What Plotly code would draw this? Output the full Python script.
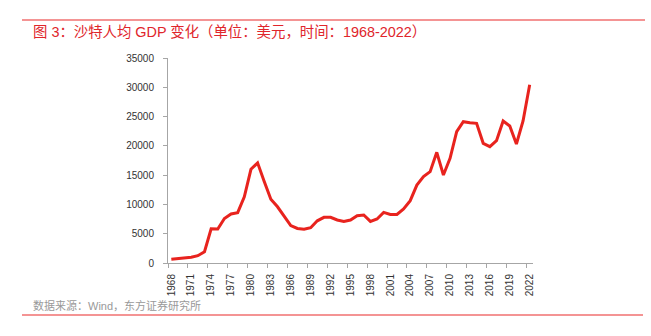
import plotly.graph_objects as go

years = list(range(1968, 2023))
gdp_per_capita = [
    630, 720, 830, 970, 1250, 1930, 5850, 5800, 7600, 8360,
    8600, 11300, 16000, 17100, 13900, 10900, 9600, 7900, 6400, 5900,
    5750, 6030, 7200, 7800, 7800, 7340, 7100, 7340, 8080, 8190,
    7100, 7510, 8650, 8300, 8300, 9220, 10640, 13310, 14740, 15590,
    18890, 15020, 17870, 22420, 24130, 23950, 23840, 20430, 19860, 20880,
    24240, 23390, 20320, 24240, 30450,
]
y_ticks = [0, 5000, 10000, 15000, 20000, 25000, 30000, 35000]
y_tick_labels = [str(v) for v in y_ticks]

title_text = "图 3：沙特人均 GDP 变化（单位：美元，时间：1968-2022）"
source_text = "数据来源：Wind，东方证券研究所"

W, H = 651, 336
L, R, T, B = 168, 118, 58, 73
PW, PH = W - L - R, H - T - B

def px(x):
    return (x - L) / PW

def py(y):
    return (H - B - y) / PH

FONT = "Liberation Sans, Arial, Noto Sans CJK SC, sans-serif"

fig = go.Figure()
fig.add_trace(go.Scatter(
    x=years, y=gdp_per_capita, mode="lines",
    line=dict(color="#E8231E", width=3),
    hoverinfo="skip", showlegend=False,
))

fig.update_layout(
    width=W, height=H,
    margin=dict(l=L, r=R, t=T, b=B, pad=0),
    paper_bgcolor="white", plot_bgcolor="white",
    font=dict(family=FONT, size=10, color="#333333"),
    xaxis=dict(
        range=[1967.5, 2022.5], tickmode="linear", tick0=1968, dtick=3,
        tickangle=-90, ticks="", showgrid=False, zeroline=False,
        showline=True, linecolor="#A6A6A6", linewidth=1,
        tickfont=dict(size=10, color="#333333"),
        ticklabelstandoff=6,
        minor=dict(tickmode="linear", tick0=1970.5, dtick=3, ticks="outside",
                   ticklen=4, tickcolor="#A6A6A6", showgrid=False),
    ),
    yaxis=dict(
        range=[0, 35000], tickmode="array", tickvals=y_ticks, ticktext=y_tick_labels,
        ticks="outside", ticklen=4, tickcolor="#A6A6A6",
        showgrid=False, zeroline=False,
        showline=True, linecolor="#A6A6A6", linewidth=1,
        tickfont=dict(size=10, color="#333333"),
        ticklabelstandoff=7,
    ),
    shapes=[
        dict(type="line", xref="paper", yref="paper",
             x0=px(22), x1=px(645), y0=py(20), y1=py(20),
             line=dict(color="#F07070", width=1.5)),
        dict(type="line", xref="paper", yref="paper",
             x0=px(22), x1=px(643), y0=py(315), y1=py(315),
             line=dict(color="#F07070", width=1.5)),
    ],
    annotations=[
        dict(text=title_text, xref="paper", yref="paper",
             x=px(31), y=py(31.5), xanchor="left", yanchor="middle",
             showarrow=False, font=dict(family=FONT, size=14.4, color="#E0252B")),
        dict(text=source_text, xref="paper", yref="paper",
             x=px(31), y=py(305.5), xanchor="left", yanchor="middle",
             showarrow=False, font=dict(family=FONT, size=11, color="#999999")),
    ],
)

fig.write_html("out.html")
